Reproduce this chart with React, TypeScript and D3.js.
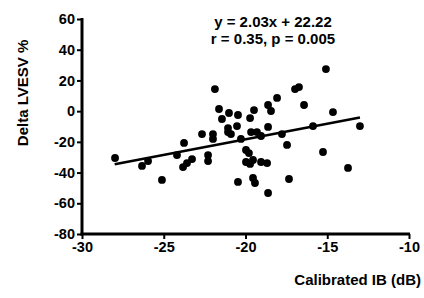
import * as d3 from "d3";
import { useEffect, useRef } from "react";

// Calibrated IB (dB)
const ibValues = [
  -27.98, -26.33, -25.96, -25.11, -24.19, -23.76, -23.82, -23.58, -23.27, -22.66,
  -22.29, -22.29, -21.99, -21.99, -21.87, -21.62, -21.44, -21.01, -20.46, -19.48,
  -19.72, -21.07, -21.07, -20.89, -20.52, -20.28, -19.97, -19.79, -19.97, -19.72,
  -19.54, -19.05, -18.68, -20.46, -19.54, -19.42, -19.66, -19.3, -19.05, -18.62,
  -18.44, -18.07, -16.97, -16.73, -16.42, -15.08, -14.65, -13.0, -15.87, -17.77,
  -18.62, -17.46, -15.26, -13.73, -17.34, -18.62,
];
// Delta LVESV %
const lvesvValues = [
  -30.5, -35.7, -32.5, -44.8, -28.6, -20.7, -36.4, -33.8, -31.2, -14.9,
  -28.6, -32.5, -14.9, -18.1, 14.4, 1.4, -5.1, -1.2, -2.5, 0.7,
  -4.5, -11.0, -13.6, -14.9, -9.7, -18.1, -25.3, -27.3, -33.1, -34.4,
  -31.8, -33.1, -33.8, -46.1, -43.5, -46.8, -13.6, -13.6, -16.2, 4.0,
  0.1, 8.6, 14.4, 15.7, 4.0, 27.4, -0.6, -9.7, -9.7, -14.9,
  -10.3, -22.0, -26.6, -37.0, -44.2, -53.3,
];

const xTicks = [-30, -25, -20, -15, -10];
const yTicks = [60, 40, 20, 0, -20, -40, -60, -80];
const slope = 2.03;
const intercept = 22.22;
const fitRange = [-28, -13];
const statLines = ["y = 2.03x + 22.22", "r = 0.35, p = 0.005"];

const App = () => {
  const ref = useRef<SVGSVGElement>(null);
  const width = 424;
  const height = 298;

  useEffect(() => {
    const svg = d3.select(ref.current);
    svg.selectAll("*").remove();

    const x = d3.scaleLinear().domain([-30, -10]).range([82, 409]);
    const y = d3.scaleLinear().domain([-80, 60]).range([234, 19]);
    const font = "'Liberation Sans', Arial, sans-serif";
    const fmt = (d: d3.NumberValue) => String(d);

    // points
    svg
      .append("g")
      .selectAll("circle")
      .data(ibValues)
      .join("circle")
      .attr("cx", (d) => x(d))
      .attr("cy", (_, i) => y(lvesvValues[i]))
      .attr("r", 3.9)
      .attr("fill", "black");

    // regression line
    svg
      .append("line")
      .attr("x1", x(fitRange[0]))
      .attr("y1", y(slope * fitRange[0] + intercept))
      .attr("x2", x(fitRange[1]))
      .attr("y2", y(slope * fitRange[1] + intercept))
      .attr("stroke", "black")
      .attr("stroke-width", 2.5);

    // Y axis
    const yAxis = svg
      .append("g")
      .attr("transform", "translate(82,0)")
      .call(d3.axisLeft(y).tickValues(yTicks).tickFormat(fmt).tickSize(5).tickPadding(2));
    yAxis.select(".domain").attr("stroke-width", 3).attr("d", `M0,${y(60) - 1}V${y(-80) + 1.5}`);
    yAxis.selectAll(".tick line").attr("stroke-width", 2);
    yAxis
      .selectAll("text")
      .attr("font-family", font)
      .attr("font-weight", "bold")
      .attr("font-size", 14.5)
      .attr("fill", "black");

    // X axis
    const xAxis = svg
      .append("g")
      .attr("transform", "translate(0,234)")
      .call(d3.axisBottom(x).tickValues(xTicks).tickFormat(fmt).tickSize(5).tickPadding(3));
    xAxis.select(".domain").attr("stroke-width", 3).attr("d", `M${x(-30) - 1.5},0H${x(-10) + 1}`);
    xAxis.selectAll(".tick line").attr("stroke-width", 2);
    xAxis
      .selectAll("text")
      .attr("font-family", font)
      .attr("font-weight", "bold")
      .attr("font-size", 14.5)
      .attr("fill", "black");

    // axis titles
    svg
      .append("text")
      .attr("transform", "translate(28,93) rotate(-90)")
      .attr("text-anchor", "middle")
      .attr("font-family", font)
      .attr("font-weight", "bold")
      .attr("font-size", 15)
      .text("Delta LVESV %");

    svg
      .append("text")
      .attr("x", 421)
      .attr("y", 285)
      .attr("text-anchor", "end")
      .attr("font-family", font)
      .attr("font-weight", "bold")
      .attr("font-size", 15)
      .text("Calibrated IB (dB)");

    // stats annotation
    svg
      .append("g")
      .selectAll("text")
      .data(statLines)
      .join("text")
      .attr("x", 273)
      .attr("y", (_, i) => 27 + i * 17)
      .attr("text-anchor", "middle")
      .attr("font-family", font)
      .attr("font-weight", "bold")
      .attr("font-size", 15)
      .text((d) => d);
  }, []);

  return (
    <svg
      ref={ref}
      width={width}
      height={height}
      style={{ position: "absolute", left: 0, top: 0, background: "white" }}
    ></svg>
  );
};

export default App;
